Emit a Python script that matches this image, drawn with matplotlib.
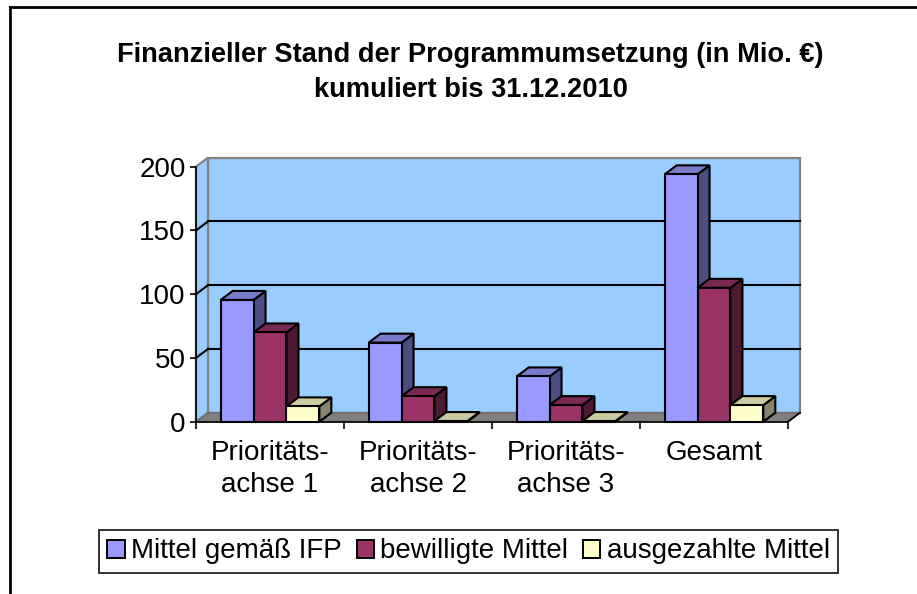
import numpy as np
import matplotlib
matplotlib.use('Agg')
import matplotlib.pyplot as plt
from matplotlib.patches import Polygon, Patch
from matplotlib.lines import Line2D
from matplotlib.transforms import IdentityTransform

# data (Mio. EUR)
categories = ['Prioritäts-\nachse 1', 'Prioritäts-\nachse 2', 'Prioritäts-\nachse 3', 'Gesamt']
series_names = ['Mittel gemäß IFP', 'bewilligte Mittel', 'ausgezahlte Mittel']
ifp = [95.5, 62, 35.5, 194]
bewilligt = [70, 20, 13, 105]
ausgezahlt = [12, 0.5, 0.5, 13]
yticks = [0, 50, 100, 150, 200]

front_colors = ['#9999FF', '#993366', '#FFFFCC']
top_colors = ['#7A7ACC', '#7A2952', '#CCCCA3']
side_colors = ['#4D4D80', '#4D1A33', '#85856E']

plt.rcParams['font.family'] = ['Liberation Sans', 'DejaVu Sans']

W, H, DPI = 917, 594, 100
fig = plt.figure(figsize=(W / DPI, H / DPI), dpi=DPI)
fig.patch.set_facecolor('white')

ax = fig.add_axes([196 / W, (H - 421.7) / H, 592 / W, 255 / H])
ax.set_xlim(0, 4)
ax.set_ylim(0, 200)
ax.patch.set_visible(False)
for s in ['top', 'right']:
    ax.spines[s].set_visible(False)
for s in ['left', 'bottom']:
    ax.spines[s].set_linewidth(1.2)
    ax.spines[s].set_zorder(8)

# depth of the 3d look, in pixels
d = np.array([12.0, 9.0])
to_px = ax.transData.transform


def face(pts, fc, z, ec='black', lw=1.5):
    ax.add_patch(Polygon(pts, closed=True, facecolor=fc, edgecolor=ec, lw=lw,
                         transform=IdentityTransform(), clip_on=False,
                         zorder=z, joinstyle='miter'))


p00, p40 = to_px((0, 0)), to_px((4, 0))
p0t, p4t = to_px((0, 200)), to_px((4, 200))

# walls and floor
face([p00 + d, p40 + d, p4t + d, p0t + d], '#99CCFF', 1, ec='#808080', lw=1.6)
face([p00, p00 + d, p0t + d, p0t], '#99CCFF', 1, ec='#808080', lw=1.6)
face([p00, p40, p40 + d, p00 + d], '#808080', 2, ec='#6E6E6E', lw=1.2)
ax.add_line(Line2D([p40[0], p40[0] + d[0]], [p40[1], p40[1] + d[1]], color='black',
                   lw=1.2, transform=IdentityTransform(), clip_on=False, zorder=8))

# gridlines on back and side wall
for v in yticks[1:-1]:
    a = to_px((0, v))
    b = to_px((4, v))
    ax.add_line(Line2D([a[0] + d[0], b[0] + d[0]], [a[1] + d[1], b[1] + d[1]], color='black',
                       lw=1.5, transform=IdentityTransform(), clip_on=False, zorder=3))
    ax.add_line(Line2D([a[0], a[0] + d[0]], [a[1], a[1] + d[1]], color='black',
                       lw=1.5, transform=IdentityTransform(), clip_on=False, zorder=3))

# bars: gap width 150% -> category = 4.5 bar widths
w = 1 / 4.5
values = [ifp, bewilligt, ausgezahlt]
for i in range(len(categories)):
    for j, vals in enumerate(values):
        x0 = i + (0.75 + j) * w
        x1 = x0 + w
        bl, br = to_px((x0, 0)), to_px((x1, 0))
        tl, tr = to_px((x0, vals[i])), to_px((x1, vals[i]))
        z = 4 + i * 0.1 + j * 0.01
        face([br, br + d, tr + d, tr], side_colors[j], z)
        face([tl, tr, tr + d, tl + d], top_colors[j], z)
        face([bl, br, tr, tl], front_colors[j], z)

# axes ticks
ax.set_yticks(yticks)
ax.tick_params(axis='y', direction='out', length=4.5, width=1.2, labelsize=20, pad=3)
ax.set_xticks([0, 1, 2, 3, 4])
ax.set_xticks([0.5, 1.5, 2.5, 3.5], minor=True)
ax.set_xticklabels([])
ax.set_xticklabels(categories, minor=True, fontsize=20, linespacing=1.3)
ax.tick_params(axis='x', which='major', direction='out', length=5, width=1.2)
ax.tick_params(axis='x', which='minor', length=0, pad=13)

# title
fig.text(470 / W, (H - 61.7) / H, 'Finanzieller Stand der Programmumsetzung (in Mio. €)',
         ha='center', va='baseline', fontsize=19.6, fontweight='bold')
fig.text(471 / W, (H - 97) / H, 'kumuliert bis 31.12.2010',
         ha='center', va='baseline', fontsize=19.6, fontweight='bold')

# legend
handles = [Patch(facecolor=c, edgecolor='black', lw=1.4) for c in front_colors]
leg = fig.legend(handles, series_names, loc='center', ncol=3,
                 bbox_to_anchor=(468.5 / W, (H - 551.5) / H), fontsize=20,
                 frameon=True, fancybox=False, handlelength=0.62, handleheight=0.62,
                 handletextpad=0.22, columnspacing=0.55, borderpad=0.3, borderaxespad=0)
leg.get_frame().set_edgecolor('black')
leg.get_frame().set_linewidth(1.4)

# chart area border (only top and left visible)
fig.add_artist(Line2D([9.5 / W, 1], [(H - 6.5) / H, (H - 6.5) / H], color='black', lw=2))
fig.add_artist(Line2D([9.5 / W, 9.5 / W], [(H - 6.5) / H, 0], color='black', lw=2))

fig.savefig('out.png', dpi=DPI)
